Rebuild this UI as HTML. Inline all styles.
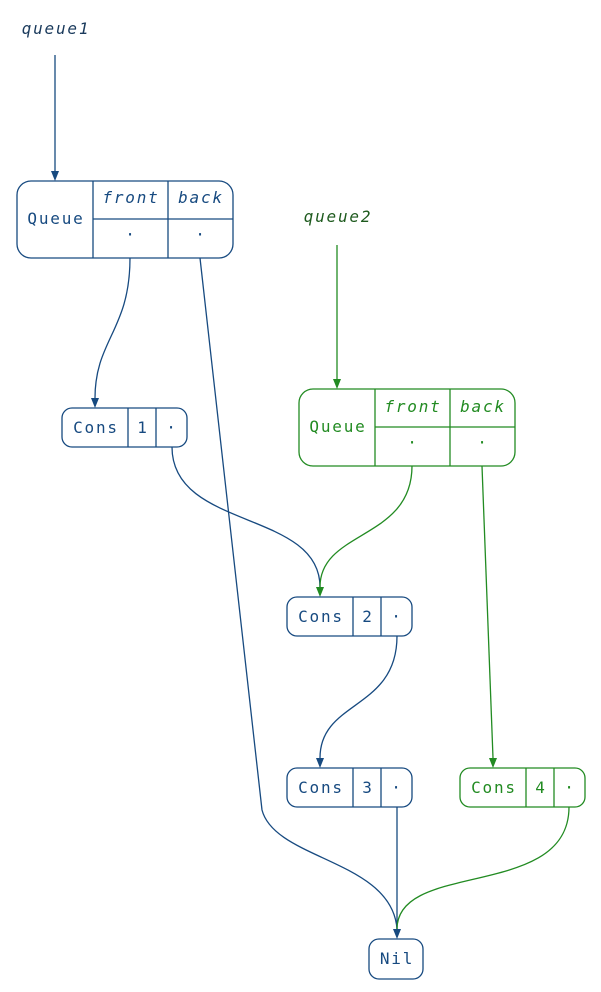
<!DOCTYPE html>
<html><head><style>body{margin:0;background:#fff}svg{display:block}text{font-family:"DejaVu Sans Mono","Liberation Mono",monospace;font-size:16px;letter-spacing:1.8px}</style></head><body>
<svg width="601" height="992" viewBox="0 0 601 992" xmlns="http://www.w3.org/2000/svg">
<g fill="none" stroke="#174a80" stroke-width="1.3">
<line x1="55" y1="55" x2="55" y2="172"/>
<path d="M130,258 C130,330 95,340 95,398"/>
<path d="M200,258 L262,810 C275,860 392,860 397,929"/>
<path d="M172,447 C172,530 320,510 320,587"/>
<path d="M397,636 C397,710 320,700 320,758"/>
<line x1="397" y1="807" x2="397" y2="929"/>
</g>
<g fill="none" stroke="#228b22" stroke-width="1.3">
<line x1="337" y1="245" x2="337" y2="380"/>
<path d="M412,466 C412,540 320,530 320,587"/>
<path d="M482,466 L493,758"/>
<path d="M569,807 C569,900 397,860 397,929"/>
</g>
<g fill="#174a80">
<path d="M51,171 L59,171 L55,181z"/><path d="M91,398 L99,398 L95,408z"/><path d="M316,758 L324,758 L320,768z"/><path d="M393,929 L401,929 L397,939z"/>
</g>
<g fill="#228b22">
<path d="M333,379 L341,379 L337,389z"/><path d="M316,587 L324,587 L320,597z"/><path d="M489,758 L497,758 L493,768z"/>
</g>
<g fill="none" stroke="#174a80" stroke-width="1.3">
<rect x="17" y="181" width="216" height="77" rx="14"/>
<line x1="93" y1="181" x2="93" y2="258"/><line x1="168" y1="181" x2="168" y2="258"/><line x1="93" y1="219" x2="233" y2="219"/>
<rect x="62" y="408" width="125" height="39" rx="10"/><line x1="128" y1="408" x2="128" y2="447"/><line x1="156" y1="408" x2="156" y2="447"/>
<rect x="287" y="597" width="125" height="39" rx="10"/><line x1="353" y1="597" x2="353" y2="636"/><line x1="381" y1="597" x2="381" y2="636"/>
<rect x="287" y="768" width="125" height="39" rx="10"/><line x1="353" y1="768" x2="353" y2="807"/><line x1="381" y1="768" x2="381" y2="807"/>
<rect x="369" y="939" width="54" height="40" rx="10"/>
</g>
<g fill="none" stroke="#228b22" stroke-width="1.3">
<rect x="299" y="389" width="216" height="77" rx="14"/>
<line x1="375" y1="389" x2="375" y2="466"/><line x1="450" y1="389" x2="450" y2="466"/><line x1="375" y1="427" x2="515" y2="427"/>
<rect x="460" y="768" width="125" height="39" rx="10"/><line x1="526" y1="768" x2="526" y2="807"/><line x1="554" y1="768" x2="554" y2="807"/>
</g>
<g fill="#174a80" text-anchor="middle">
<text x="56" y="34" font-style="italic" fill="#1a3a5c">queue1</text>
<text x="56" y="224">Queue</text>
<text x="131" y="203" font-style="italic">front</text>
<text x="201" y="203" font-style="italic">back</text>
<text x="131" y="240">·</text><text x="201" y="240">·</text>
<text x="96" y="433">Cons</text><text x="143" y="433">1</text><text x="172" y="433">·</text>
<text x="321" y="622">Cons</text><text x="368" y="622">2</text><text x="397" y="622">·</text>
<text x="321" y="793">Cons</text><text x="368" y="793">3</text><text x="397" y="793">·</text>
<text x="397" y="964">Nil</text>
</g>
<g fill="#228b22" text-anchor="middle">
<text x="338" y="222" font-style="italic" fill="#1e5a1e">queue2</text>
<text x="338" y="432">Queue</text>
<text x="413" y="412" font-style="italic">front</text>
<text x="483" y="412" font-style="italic">back</text>
<text x="413" y="448">·</text><text x="483" y="448">·</text>
<text x="494" y="793">Cons</text><text x="541" y="793">4</text><text x="570" y="793">·</text>
</g>
</svg>
</body></html>
